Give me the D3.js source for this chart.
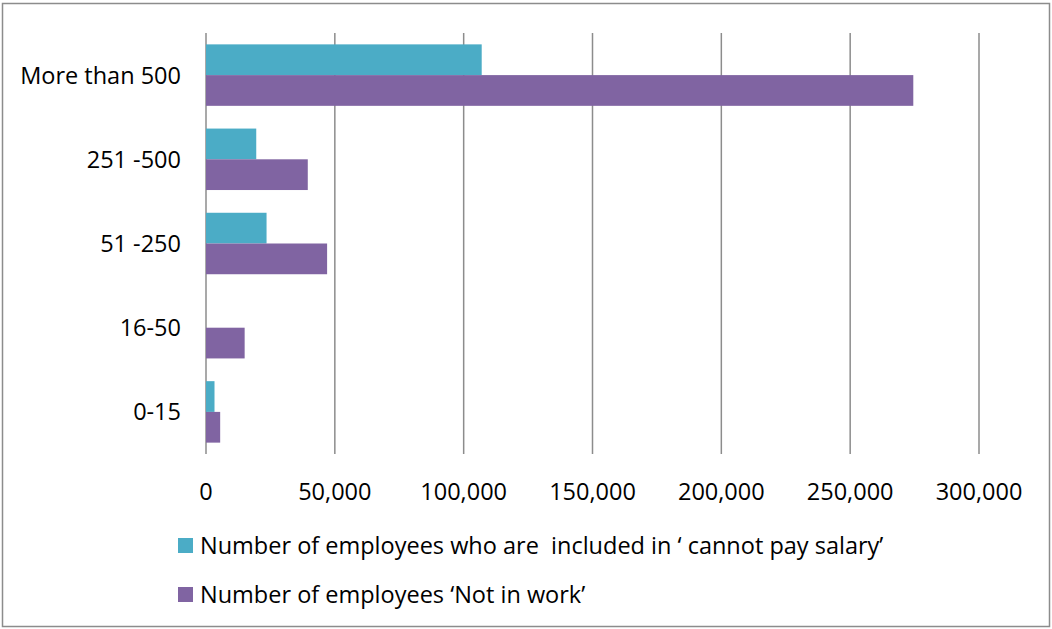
<!DOCTYPE html>
<html><head><meta charset="utf-8">
<script src="https://cdn.jsdelivr.net/npm/d3@7"></script>
<style>body{margin:0;background:#fff;} text{font-family:"Open Sans",sans-serif;white-space:pre;}</style>
</head><body>
<svg id="c" width="1052" height="629"></svg>
<script>
const categories = ["More than 500", "251 -500", "51 -250", "16-50", "0-15"];
const cannotPaySalary = [107000, 19500, 23500, 0, 3300];
const notInWork = [274500, 39500, 47000, 15000, 5500];
const xTicks = [0, 50000, 100000, 150000, 200000, 250000, 300000];
const seriesNames = ["Number of employees who are  included in \u2018 cannot pay salary\u2019", "Number of employees \u2018Not in work\u2019"];
const colors = ["#4BACC6", "#8064A2"];

(function(){
const svg = d3.select("#c");
svg.append("rect").attr("x",2.5).attr("y",3.5).attr("width",1047).attr("height",623)
  .attr("fill","#fff").attr("stroke","#8c8c8c").attr("stroke-width",1.5);

const pL = 206, pR = 979, pT = 33, pB = 454;
const fs = 23.5;
const x = d3.scaleLinear().domain([0, 300000]).range([pL, pR]);
const y = d3.scaleBand().domain(categories).range([pT, pB]).paddingInner(0.27).paddingOuter(0.135);
const sub = d3.scaleBand().domain([0,1]).range([0, y.bandwidth()]);

svg.append("g").selectAll("line").data(xTicks).join("line")
  .attr("x1", d=>x(d)).attr("x2", d=>x(d)).attr("y1", pT).attr("y2", pB)
  .attr("stroke", "#8c8c8c").attr("stroke-width", 1.5);

const series = [cannotPaySalary, notInWork];
series.forEach((vals, si) => {
  svg.append("g").selectAll("rect").data(vals).join("rect")
    .attr("x", x(0)).attr("y", (d,i)=>y(categories[i]) + sub(si))
    .attr("width", d=>x(d)-x(0)).attr("height", sub.bandwidth())
    .attr("fill", colors[si]);
});

svg.append("g").selectAll("text").data(xTicks).join("text")
  .attr("x", d=>x(d)).attr("y", 499.5).attr("text-anchor","middle")
  .attr("font-size", fs).attr("fill","#000").text(d=>d3.format(",")(d));

svg.append("g").selectAll("text").data(categories).join("text")
  .attr("x", 181).attr("y", d=>y(d)+y.bandwidth()/2+8.5).attr("text-anchor","end")
  .attr("font-size", fs).attr("fill","#000").text(d=>d);

const leg = svg.append("g").selectAll("g").data(seriesNames).join("g")
  .attr("transform", (d,i)=>`translate(178,${538 + i*49})`);
leg.append("rect").attr("width",15).attr("height",15).attr("fill",(d,i)=>colors[i]);
leg.append("text").attr("x",22).attr("y",16).attr("font-size",fs).attr("fill","#000").text(d=>d);
})();
</script>
</body></html>
